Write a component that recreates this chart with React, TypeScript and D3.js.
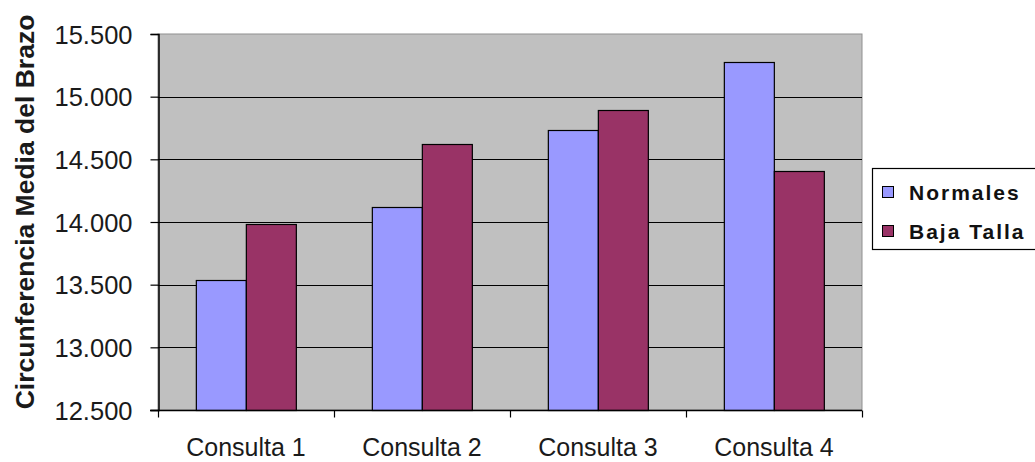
import React, { useEffect, useRef } from 'react';
import * as d3 from 'd3';

const categories = ['Consulta 1', 'Consulta 2', 'Consulta 3', 'Consulta 4'];
const seriesNames = ['Normales', 'Baja Talla'];
const normales = [13537, 14122, 14734, 15277];
const bajaTalla = [13984, 14620, 14894, 14410];
const yTicks = [12500, 13000, 13500, 14000, 14500, 15000, 15500];
const colors = ['#9999FF', '#993366'];

const FONT = 'Arial, "Liberation Sans", sans-serif';
const fmt = (v) => d3.format(',.3f')(v / 1000).replace(',', '.');

const App = () => {
  const ref = useRef(null);

  useEffect(() => {
    const svg = d3.select(ref.current);
    svg.selectAll('*').remove();

    const left = 158, right = 862, top = 34, bottom = 410;

    const x = d3.scaleBand().domain(categories).range([left, right]).paddingInner(0.43).paddingOuter(0.215);
    const xs = d3.scaleBand().domain(seriesNames).range([0, x.bandwidth()]);
    const y = d3.scaleLinear().domain([12500, 15500]).range([bottom, top]);

    // plot area
    svg.append('rect')
      .attr('x', left).attr('y', top)
      .attr('width', right - left).attr('height', bottom - top)
      .attr('fill', '#C0C0C0').attr('stroke', '#909090').attr('stroke-width', 1);

    // gridlines
    svg.append('g')
      .selectAll('line')
      .data(yTicks.slice(1, -1))
      .enter()
      .append('line')
      .attr('x1', left).attr('x2', right)
      .attr('y1', d => Math.round(y(d)) + 0.5).attr('y2', d => Math.round(y(d)) + 0.5)
      .attr('stroke', '#000').attr('stroke-width', 1);

    const data = categories.map((c, i) => ({ c, vals: [normales[i], bajaTalla[i]] }));

    const groups = svg.append('g')
      .selectAll('g')
      .data(data)
      .enter()
      .append('g')
      .attr('transform', d => `translate(${x(d.c)},0)`);

    groups.selectAll('rect')
      .data(d => d.vals.map((v, j) => ({ v, s: seriesNames[j], j })))
      .enter()
      .append('rect')
      .attr('x', d => Math.round(xs(d.s)) + 0.5)
      .attr('width', Math.round(xs.bandwidth()))
      .attr('y', d => Math.round(y(d.v)) + 0.5)
      .attr('height', d => bottom - Math.round(y(d.v)))
      .attr('fill', d => colors[d.j])
      .attr('stroke', '#000').attr('stroke-width', 1.2);

    // y axis
    const yAxis = svg.append('g')
      .attr('transform', `translate(${left + 0.5},0)`)
      .call(d3.axisLeft(y).tickValues(yTicks).tickSize(8).tickPadding(18).tickFormat(fmt));
    yAxis.select('.domain').attr('stroke', '#000').attr('stroke-width', 1.5);
    yAxis.selectAll('.tick line').attr('stroke', '#000').attr('stroke-width', 1.2);
    yAxis.selectAll('.tick text')
      .attr('font-family', FONT)
      .attr('font-size', 25.5).attr('fill', '#1a1a1a')
      .attr('dy', '0.36em');

    // x axis
    const xAxis = svg.append('g')
      .attr('transform', `translate(0,${bottom + 0.5})`);
    xAxis.append('line')
      .attr('x1', left - 8).attr('x2', right)
      .attr('stroke', '#000').attr('stroke-width', 1.5);
    const tickPos = categories.map(c => x(c) - x.step() * x.paddingInner() / 2).concat([right]);
    xAxis.selectAll('line.tk')
      .data(tickPos)
      .enter()
      .append('line')
      .attr('class', 'tk')
      .attr('x1', d => Math.round(d) + 0.5).attr('x2', d => Math.round(d) + 0.5)
      .attr('y1', 0).attr('y2', 7)
      .attr('stroke', '#000').attr('stroke-width', 1.2);

    svg.append('g')
      .selectAll('text')
      .data(categories)
      .enter()
      .append('text')
      .attr('x', d => x(d) + x.bandwidth() / 2)
      .attr('y', 456)
      .attr('text-anchor', 'middle')
      .attr('font-family', FONT)
      .attr('font-size', 25)
      .attr('fill', '#1a1a1a')
      .text(d => d);

    // y title
    svg.append('text')
      .attr('transform', `translate(34,212) rotate(-90)`)
      .attr('text-anchor', 'middle')
      .attr('font-family', FONT)
      .attr('font-weight', 'bold')
      .attr('font-size', 26.5)
      .attr('fill', '#1a1a1a')
      .text('Circunferencia Media del Brazo');

    // legend
    const lg = svg.append('g').attr('transform', 'translate(872,168)');
    lg.append('rect')
      .attr('x', 0.5).attr('y', 0.5).attr('width', 180).attr('height', 81)
      .attr('fill', '#fff').attr('stroke', '#000').attr('stroke-width', 1.2);
    const items = lg.selectAll('g.item')
      .data(seriesNames)
      .enter()
      .append('g')
      .attr('class', 'item')
      .attr('transform', (d, i) => `translate(0,${24 + i * 39})`);
    items.append('rect')
      .attr('x', 10.5).attr('y', -5.5).attr('width', 11).attr('height', 11)
      .attr('fill', (d, i) => colors[i]).attr('stroke', '#000').attr('stroke-width', 1);
    items.append('text')
      .attr('x', 37).attr('y', 8)
      .attr('font-family', FONT)
      .attr('font-weight', 'bold')
      .attr('font-size', 21)
      .attr('letter-spacing', 2)
      .attr('fill', '#111')
      .text(d => d);
  }, []);

  return (
    <svg ref={ref} width={1035} height={462} style={{ position: 'absolute', left: 0, top: 0, background: '#fff' }}></svg>
  );
};

export default App;
